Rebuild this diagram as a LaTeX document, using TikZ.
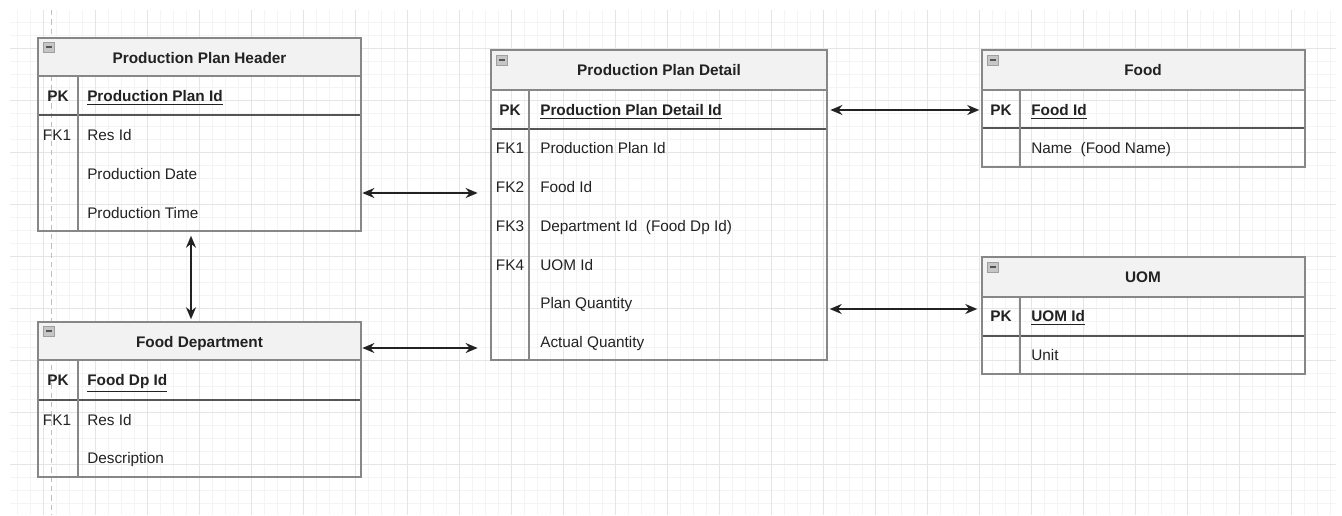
\documentclass[tikz,border=0pt]{standalone}
\usepackage{fontspec}
\setmainfont{Liberation Sans}
\usetikzlibrary{arrows.meta, fit}
\definecolor{ink}{RGB}{34, 34, 34}
\definecolor{boxline}{RGB}{135, 135, 135}
\definecolor{keyline}{RGB}{85, 85, 85}
\definecolor{headfill}{RGB}{242, 242, 242}
\definecolor{gridminor}{RGB}{244, 244, 244}
\definecolor{gridmajor}{RGB}{229, 229, 229}

\tikzset{
  tbl/.style={draw=boxline, line width=1.1pt, inner sep=0pt},
  txt/.style={font=\fontsize{11.5}{13}\selectfont, text=ink, text height=9.6pt, text depth=0.7pt},
  ttl/.style={txt, font=\bfseries\fontsize{11.5}{13}\selectfont},
  keyc/.style={txt},
  pkkey/.style={txt, font=\bfseries\fontsize{11.5}{13}\selectfont},
  fld/.style={txt, anchor=west, inner xsep=0pt},
  pkfld/.style={fld, font=\bfseries\fontsize{11.5}{13}\selectfont},
  sep/.style={draw=boxline, line width=0.8pt},
  pksep/.style={draw=keyline, line width=1.1pt},
  icon/.style={fill=gray!45, draw=gray!75, line width=0.4pt},
  rel/.style={{Stealth[length=9pt,width=7.5pt]}-{Stealth[length=9pt,width=7.5pt]}, draw=ink, line width=1.2pt},
}

\begin{document}
\begin{tikzpicture}[x=0.75pt, y=-0.75pt]
  \useasboundingbox[fill=white] (0,0) rectangle (1342,515);
  % grid paper
  \foreach \gx in {17,30,...,1336} \draw[gridminor, line width=0.6pt] (\gx,10) -- (\gx,515);
  \foreach \gy in {22,35,...,515} \draw[gridminor, line width=0.6pt] (10,\gy) -- (1336,\gy);
  \foreach \gx in {43,95,...,1336} \draw[gridmajor, line width=0.7pt] (\gx,10) -- (\gx,515);
  \foreach \gy in {48,100,...,515} \draw[gridmajor, line width=0.7pt] (10,\gy) -- (1336,\gy);
  \draw[gray!50, dash pattern=on 4pt off 3pt, line width=0.7pt] (51,10) -- (51,515);

  % Production Plan Header
  \fill[headfill] (38,38) rectangle (361,76);
  \draw[sep] (38,76) -- (361,76);
  \draw[pksep] (38,115) -- (361,115);
  \draw[sep] (78,76) -- (78,231);
  \node[tbl, fit={(38,38) (361,231)}] (pph) {};
  \draw[icon] (43,42) rectangle (54,52);
  \draw[keyline, line width=1.2pt] (45.5,47) -- (51.5,47);
  \node[ttl] (pphT) at (199.5,58) {Production Plan Header};
  \node[pkkey] at (58,96) {PK};
  \node[pkfld] at (87,96) {\underline{Production Plan Id}};
  \node[keyc] at (57,135) {FK1};
  \foreach \fy/\ft in {135/Res Id, 174/Production Date, 213/Production Time}
    \node[fld] at (87,\fy) {\ft};

  % Food Department
  \fill[headfill] (38,322) rectangle (361,360);
  \draw[sep] (38,360) -- (361,360);
  \draw[pksep] (38,400) -- (361,400);
  \draw[sep] (78,360) -- (78,477);
  \node[tbl, fit={(38,322) (361,477)}] (fdp) {};
  \draw[icon] (43,326) rectangle (54,336);
  \draw[keyline, line width=1.2pt] (45.5,331) -- (51.5,331);
  \node[ttl] (fdpT) at (199.5,342) {Food Department};
  \node[pkkey] at (58,380) {PK};
  \node[pkfld] at (87,380) {\underline{Food Dp Id}};
  \node[keyc] at (57,420) {FK1};
  \foreach \fy/\ft in {420/Res Id, 458/Description}
    \node[fld] at (87,\fy) {\ft};

  % Production Plan Detail
  \fill[headfill] (491,50) rectangle (827,90);
  \draw[sep] (491,90) -- (827,90);
  \draw[pksep] (491,129) -- (827,129);
  \draw[sep] (529,90) -- (529,360);
  \node[tbl, fit={(491,50) (827,360)}] (ppd) {};
  \draw[icon] (496,55) rectangle (507,65);
  \draw[keyline, line width=1.2pt] (498.5,60) -- (504.5,60);
  \node[ttl] (ppdT) at (659,70) {Production Plan Detail};
  \node[pkkey] at (510,110) {PK};
  \node[pkfld] at (540,110) {\underline{Production Plan Detail Id}};
  \foreach \fy/\fk in {148/FK1, 187/FK2, 226/FK3, 265/FK4}
    \node[keyc] at (510,\fy) {\fk};
  \foreach \fy/\ft in {148/Production Plan Id, 187/Food Id, 226/Department Id\ \ (Food Dp Id), 265/UOM Id, 303/Plan Quantity, 342/Actual Quantity}
    \node[fld] at (540,\fy) {\ft};

  % Food
  \fill[headfill] (982,50) rectangle (1305,90);
  \draw[sep] (982,90) -- (1305,90);
  \draw[pksep] (982,128) -- (1305,128);
  \draw[sep] (1020,90) -- (1020,167);
  \node[tbl, fit={(982,50) (1305,167)}] (food) {};
  \draw[icon] (987,55) rectangle (998,65);
  \draw[keyline, line width=1.2pt] (989.5,60) -- (995.5,60);
  \node[ttl] (foodT) at (1143,70) {Food};
  \node[pkkey] at (1001,110) {PK};
  \node[pkfld] at (1031,110) {\underline{Food Id}};
  \node[fld] at (1031,148) {Name\ \ (Food Name)};

  % UOM
  \fill[headfill] (982,257) rectangle (1305,297);
  \draw[sep] (982,297) -- (1305,297);
  \draw[pksep] (982,336) -- (1305,336);
  \draw[sep] (1020,297) -- (1020,374);
  \node[tbl, fit={(982,257) (1305,374)}] (uom) {};
  \draw[icon] (987,262) rectangle (998,272);
  \draw[keyline, line width=1.2pt] (989.5,267) -- (995.5,267);
  \node[ttl] (uomT) at (1143,277) {UOM};
  \node[pkkey] at (1001,316) {PK};
  \node[pkfld] at (1031,316) {\underline{UOM Id}};
  \node[fld] at (1031,355) {Unit};

  % relationships
  \draw[rel, shorten <=0.5pt, shorten >=9.5pt] (pph.east |- 0,193) -- (ppd.west |- 0,193);
  \draw[rel, shorten <=0.5pt, shorten >=9.5pt] (fdp.east |- 0,348) -- (ppd.west |- 0,348);
  \draw[rel, shorten <=3pt, shorten >=1.5pt] (pph.south -| 191,0) -- (fdp.north -| 191,0);
  \draw[rel, shorten <=2pt, shorten >=1.5pt] (ppd.east |- 0,110) -- (food.west |- 0,110);
  \draw[rel, shorten <=1.5pt, shorten >=3pt] (ppd.east |- 0,309) -- (uom.west |- 0,309);
\end{tikzpicture}
\end{document}
